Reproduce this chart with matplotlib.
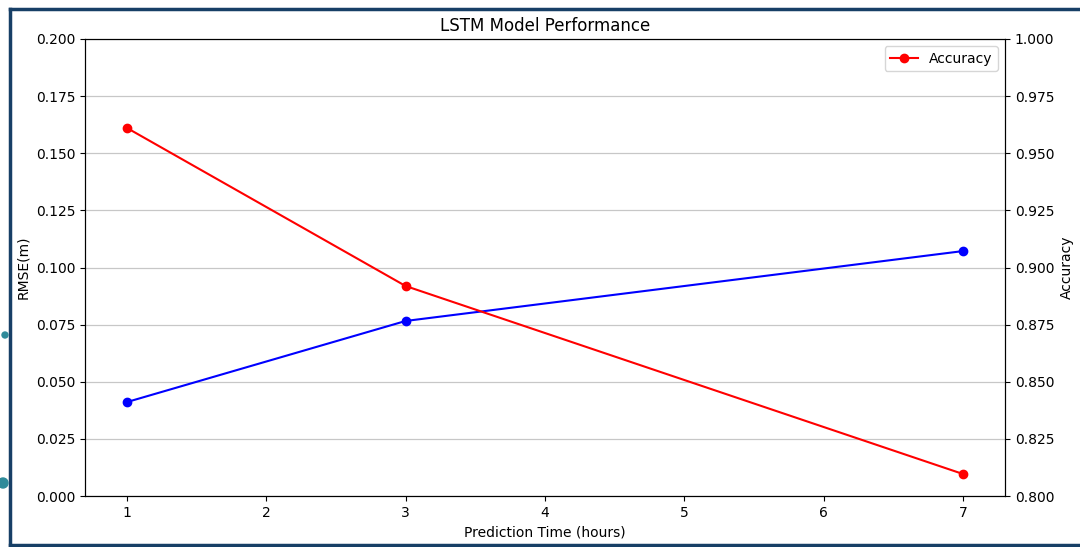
import matplotlib
matplotlib.use("Agg")
import matplotlib.pyplot as plt
from matplotlib.lines import Line2D
from matplotlib.patches import Circle

# Forecast horizons and model metrics
hours = [1, 3, 7]
rmse = [0.0411, 0.0766, 0.1072]
accuracy = [0.9611, 0.8919, 0.8096]

rmse_ticks = [0.000, 0.025, 0.050, 0.075, 0.100, 0.125, 0.150, 0.175, 0.200]
acc_ticks = [0.800, 0.825, 0.850, 0.875, 0.900, 0.925, 0.950, 0.975, 1.000]

fig = plt.figure(figsize=(10.8, 5.47), dpi=100)
ax1 = fig.add_axes([85 / 1080, 51 / 547, 920 / 1080, 457 / 547])

ax1.plot(hours, rmse, color="blue", marker="o", linewidth=1.5, markersize=6,
         label="RMSE")
ax1.set_ylim(0.0, 0.2)
ax1.set_yticks(rmse_ticks)
ax1.set_yticklabels([f"{t:.3f}" for t in rmse_ticks])
ax1.set_xlabel("Prediction Time (hours)")
ax1.set_ylabel("RMSE(m)")
ax1.grid(True, axis="y", color="#b0b0b0", alpha=0.7, linewidth=0.9)
ax1.set_title("LSTM Model Performance", fontsize=12)

ax2 = ax1.twinx()
ax2.plot(hours, accuracy, color="red", marker="o", linewidth=1.5, markersize=6,
         label="Accuracy")
ax2.set_ylim(0.8, 1.0)
ax2.set_yticks(acc_ticks)
ax2.set_yticklabels([f"{t:.3f}" for t in acc_ticks])
ax2.set_ylabel("Accuracy")
ax2.legend(loc="upper right")

# Navy frame around the figure (top, left and bottom edges)
frame_color = "#173f66"
fig.add_artist(Line2D([10 / 1080, 1.0], [1 - 9 / 547, 1 - 9 / 547],
                      transform=fig.transFigure, color=frame_color, linewidth=2.5))
fig.add_artist(Line2D([10 / 1080, 10 / 1080], [1 - 9 / 547, 1 - 545 / 547],
                      transform=fig.transFigure, color=frame_color, linewidth=2.5))
fig.add_artist(Line2D([10 / 1080, 1.0], [1 - 545 / 547, 1 - 545 / 547],
                      transform=fig.transFigure, color=frame_color, linewidth=2.5))

# Small teal handles on the left edge
for (px, py, r) in [(5, 335, 3), (3, 483, 5)]:
    fig.add_artist(Circle((px, 547 - py), r, transform=None,
                          color="#2e8a9a", zorder=10))

fig.savefig("out.png", dpi=100)
